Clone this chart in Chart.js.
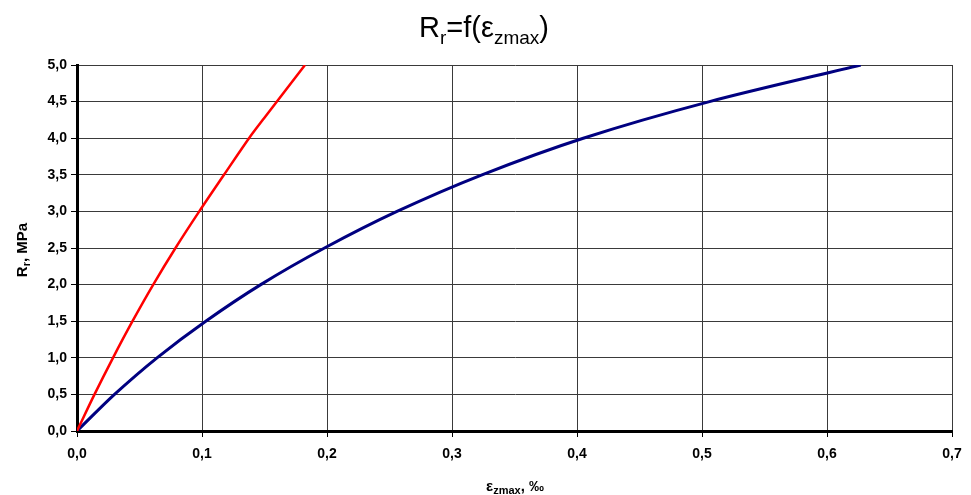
<!DOCTYPE html>
<html>
<head>
<meta charset="utf-8">
<script src="https://cdn.jsdelivr.net/npm/chart.js@4"></script>
<style>
  html, body { margin: 0; padding: 0; background: #fff; }
  #wrap { width: 971px; height: 495px; }
</style>
</head>
<body>
<div id="wrap"><canvas id="chart" width="971" height="495"></canvas></div>
<script>
// Values (strain in ‰, stress in MPa).
var redStrain  = [0, 0.0140, 0.0288, 0.0444, 0.0610, 0.0788, 0.0978, 0.1176, 0.1376, 0.1495, 0.1824];
var redStress  = [0, 0.5,    1.0,    1.5,    2.0,    2.5,    3.0,    3.5,    4.0,    4.27,   5.0];
var blueStrain = [0, 0.030, 0.064, 0.103, 0.147, 0.198, 0.256, 0.324, 0.405, 0.506, 0.627];
var blueStress = [0, 0.5,   1.0,   1.5,   2.0,   2.5,   3.0,   3.5,   4.0,   4.5,   5.0];

var X_MIN = 0, X_MAX = 0.7, X_STEP = 0.1;
var Y_MIN = 0, Y_MAX = 5.0, Y_STEP = 0.5;

var FONT = '"Liberation Sans", Arial, sans-serif';

function toPoints(xs, ys) {
    return xs.map(function (x, i) { return { x: x, y: ys[i] }; });
}

function commaLabel(v) {
    return Number(v).toFixed(1).replace('.', ',');
}

// Draws a run of [text, size, weight, dy] pieces, centred on cx.
function drawRuns(ctx, runs, cx, cy) {
    var total = 0;
    runs.forEach(function (r) {
        ctx.font = r[2] + ' ' + r[1] + 'px ' + FONT;
        total += ctx.measureText(r[0]).width;
    });
    var x = cx - total / 2;
    runs.forEach(function (r) {
        ctx.font = r[2] + ' ' + r[1] + 'px ' + FONT;
        ctx.fillText(r[0], x, cy + r[3]);
        x += ctx.measureText(r[0]).width;
    });
}

var textPlugin = {
    id: 'subscriptText',
    afterDraw: function (chart) {
        var ctx = chart.ctx;
        ctx.save();
        ctx.fillStyle = '#000';
        ctx.textBaseline = 'alphabetic';
        ctx.textAlign = 'left';

        // Title
        drawRuns(ctx, [
            ['R', 29, 'normal', 0],
            ['r', 19, 'normal', 7],
            ['=f(\u03b5', 29, 'normal', 0],
            ['zmax', 19, 'normal', 7],
            [')', 29, 'normal', 0]
        ], 484, 37);

        // X axis title
        drawRuns(ctx, [
            ['\u03b5', 15, 'bold', 0],
            ['zmax', 11, 'bold', 3],
            [', \u2030', 15, 'bold', 0]
        ], 515, 491);

        // Y axis title (rotated)
        ctx.translate(27, 250);
        ctx.rotate(-Math.PI / 2);
        drawRuns(ctx, [
            ['R', 15, 'bold', 0],
            ['r', 11, 'bold', 3],
            [', MPa', 15, 'bold', 0]
        ], 0, 0);
        ctx.restore();
    }
};

new Chart(document.getElementById('chart').getContext('2d'), {
    type: 'scatter',
    data: {
        datasets: [{
            label: 'red',
            data: toPoints(redStrain, redStress),
            showLine: true,
            borderColor: '#ff0000',
            borderWidth: 2.5,
            pointRadius: 0,
            tension: 0.3,
            order: 1
        }, {
            label: 'blue',
            data: toPoints(blueStrain, blueStress),
            showLine: true,
            borderColor: '#000080',
            borderWidth: 3,
            pointRadius: 0,
            tension: 0.3,
            order: 2
        }]
    },
    options: {
        responsive: false,
        animation: false,
        layout: { padding: { left: 0, top: 65, right: 19, bottom: 0 } },
        plugins: {
            legend: { display: false },
            tooltip: { enabled: false },
            title: { display: false }
        },
        scales: {
            x: {
                type: 'linear',
                min: X_MIN,
                max: X_MAX,
                afterFit: function (s) { s.height = 64; },
                afterBuildTicks: function (s) {
                    var t = [];
                    for (var i = 0; i <= Math.round((X_MAX - X_MIN) / X_STEP); i++) {
                        t.push({ value: +(X_MIN + i * X_STEP).toFixed(2) });
                    }
                    s.ticks = t;
                },
                ticks: {
                    color: '#000',
                    font: { family: FONT, size: 14, weight: 'bold' },
                    padding: 9,
                    maxRotation: 0,
                    callback: commaLabel
                },
                grid: { color: '#3a3a3a', lineWidth: 1, tickLength: 6, tickColor: '#000' },
                border: { display: true, color: '#000', width: 3 }
            },
            y: {
                type: 'linear',
                min: Y_MIN,
                max: Y_MAX,
                afterFit: function (s) { s.width = 77; },
                afterBuildTicks: function (s) {
                    var t = [];
                    for (var i = 0; i <= Math.round((Y_MAX - Y_MIN) / Y_STEP); i++) {
                        t.push({ value: +(Y_MIN + i * Y_STEP).toFixed(2) });
                    }
                    s.ticks = t;
                },
                ticks: {
                    color: '#000',
                    font: { family: FONT, size: 14, weight: 'bold' },
                    padding: 4,
                    callback: commaLabel
                },
                grid: { color: '#3a3a3a', lineWidth: 1, tickLength: 6, tickColor: '#000' },
                border: { display: true, color: '#000', width: 3 }
            }
        }
    },
    plugins: [textPlugin]
});
</script>
</body>
</html>
